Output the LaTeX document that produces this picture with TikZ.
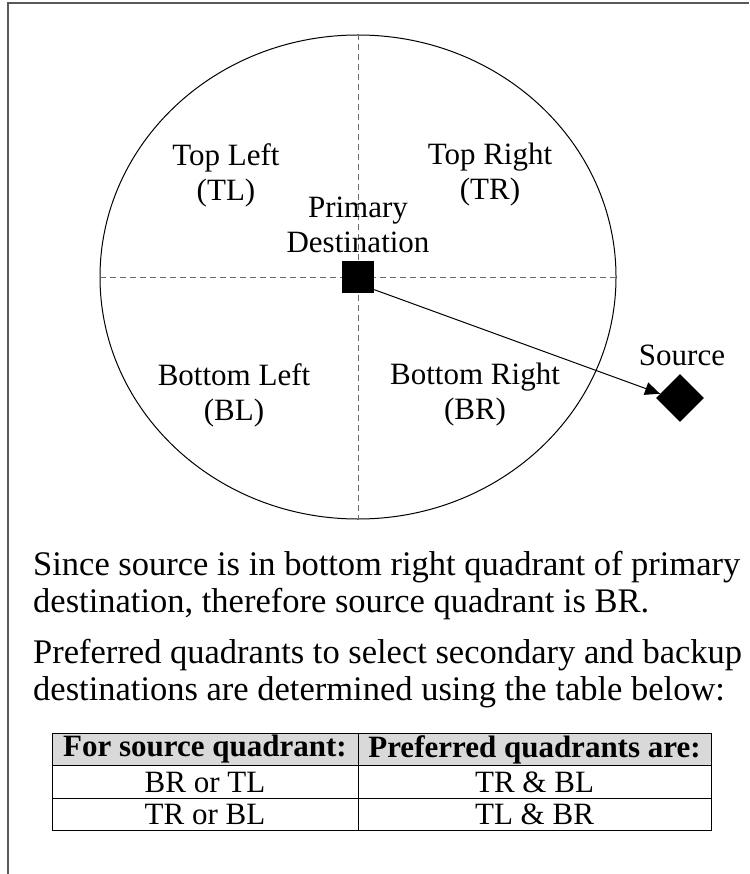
\documentclass[tikz,border=0pt]{standalone}
\usepackage{fontspec}
\setmainfont{Liberation Serif}
\usetikzlibrary{arrows.meta,shapes.geometric}
\begin{document}
\begin{tikzpicture}[x=1pt,y=-1pt,
  lbl/.style={align=center,font=\fontsize{31}{35}\selectfont,inner sep=0pt},
  body/.style={anchor=west,align=left,font=\fontsize{34.5}{37}\selectfont,inner sep=0pt},
  axis/.style={draw=gray!85!black,line width=1pt,dash pattern=on 6pt off 4pt},
  cell/.style={draw,line width=1pt,minimum height=32.5pt,inner sep=0pt,font=\fontsize{31}{36}\selectfont},
  frame/.style={draw=gray!70!black,line width=1.5pt}]
\useasboundingbox (0,0) rectangle (749,874);

% open frame: top and left edges only
\draw[frame] (8,874) -- (8,3) -- (749,3);

% the region around the primary destination
\node[ellipse,draw,line width=1pt,minimum width=516pt,minimum height=484pt,inner sep=0pt] (ring) at (358,277) {};
\draw[axis] (ring.north) -- (ring.south);
\draw[axis] (ring.west) -- (ring.east);

% quadrant labels
\node[lbl] (tl) at (226,175) {Top Left\\(TL)};
\node[lbl] (tr) at (490,175) {Top Right\\(TR)};
\node[lbl] (bl) at (234,395) {Bottom Left\\(BL)};
\node[lbl] (br) at (475,395) {Bottom Right\\(BR)};
\node[lbl] (pdl) at (358,225) {Primary\\Destination};

% destination and source markers
\node[fill,minimum size=32pt,inner sep=0pt] (pd) at (358,277) {};
\node[diamond,fill,minimum size=48pt,inner sep=0pt] (src) at (680,398) {};
\node[lbl] (srcl) at (682,355) {Source};
\draw[line width=1pt,-{Triangle[length=15pt,width=13pt]}] (pd.-38) -- (src.168);

% explanation
\node[body] (t1) at (33,586) {Since source is in bottom right quadrant of primary\\destination, therefore source quadrant is BR.};
\node[body] (t2) at (33,673.5) {Preferred quadrants to select secondary and backup\\destinations are determined using the table below:};

% lookup table
\node[cell,fill=gray!30,minimum width=306pt] (h1) at (205,749.5) {\bfseries For source quadrant:};
\node[cell,fill=gray!30,minimum width=353pt] (h2) at (534.5,749.5) {\bfseries Preferred quadrants are:};
\node[cell,minimum width=306pt] (a1) at (205,782) {BR or TL};
\node[cell,minimum width=353pt] (b1) at (534.5,782) {TR \& BL};
\node[cell,minimum width=306pt] (a2) at (205,814.5) {TR or BL};
\node[cell,minimum width=353pt] (b2) at (534.5,814.5) {TL \& BR};
\end{tikzpicture}
\end{document}
